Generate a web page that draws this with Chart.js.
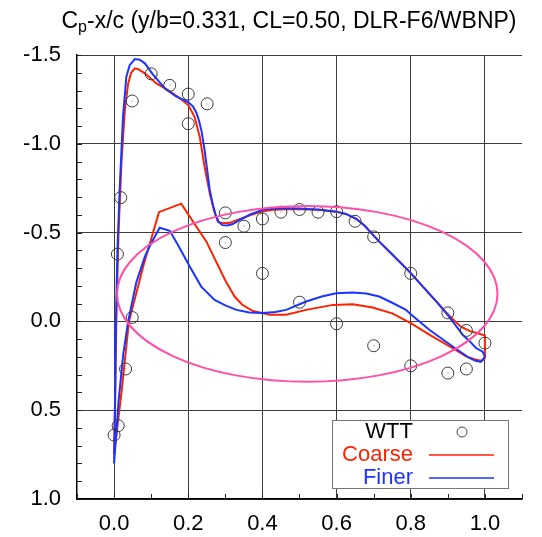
<!DOCTYPE html>
<html lang="en">
<head>
  <meta charset="UTF-8">
  <title>Cp distribution</title>
  <script src="https://cdn.jsdelivr.net/npm/chart.js"></script>
  <style>
    body {
      margin: 0;
      background-color: #ffffff;
    }
    canvas {
      display: block;
    }
  </style>
</head>
<body>
  <canvas id="cpChart" width="542" height="537"></canvas>

  <script>
    // axis ticks
    const xTicks = [0.0, 0.2, 0.4, 0.6, 0.8, 1.0];
    const yTicks = [-1.5, -1.0, -0.5, 0.0, 0.5, 1.0];

    // wind tunnel test points
    const wttX = [0.0, 0.011, 0.031, 0.049, 0.009, 0.018, 0.049, 0.1, 0.15, 0.2, 0.2, 0.251,
      0.3, 0.3, 0.35, 0.4, 0.45, 0.5, 0.55, 0.6, 0.65, 0.7, 0.8, 0.4, 0.5, 0.6, 0.7, 0.8,
      0.9, 0.95, 1.0, 0.9, 0.95];
    const wttY = [0.64, 0.587, 0.268, -0.022, -0.379, -0.697, -1.241, -1.394, -1.329, -1.28, -1.113, -1.225,
      -0.611, -0.444, -0.536, -0.577, -0.615, -0.63, -0.615, -0.618, -0.564, -0.476, -0.27, -0.27, -0.108, 0.013, 0.137, 0.25,
      -0.048, 0.051, 0.122, 0.291, 0.268];

    // coarse grid, upper surface from trailing edge to nose, then lower surface back
    const coarseX = [1.0, 1.0, 0.985, 0.96, 0.935, 0.915, 0.9, 0.87, 0.835, 0.8, 0.751, 0.715, 0.697, 0.675,
      0.653, 0.625, 0.599, 0.554, 0.5, 0.464, 0.43, 0.401, 0.37, 0.338, 0.312, 0.295, 0.28, 0.27, 0.258,
      0.244, 0.231, 0.217, 0.2, 0.172, 0.145, 0.114, 0.083, 0.065, 0.056, 0.046, 0.038, 0.029, 0.02, 0.012,
      0.006, 0.003, 0.0,
      0.02, 0.04, 0.08, 0.121, 0.181, 0.249, 0.3, 0.325, 0.345, 0.374, 0.42, 0.464, 0.518, 0.59, 0.644,
      0.697, 0.75, 0.8, 0.85, 0.913, 0.949, 0.976, 0.99, 1.0];
    const coarseY = [0.21, 0.08, 0.07, 0.055, 0.03, -0.01, -0.04, -0.11, -0.19, -0.272, -0.375, -0.449, -0.49, -0.54,
      -0.578, -0.605, -0.618, -0.628, -0.632, -0.632, -0.628, -0.62, -0.6, -0.575, -0.555, -0.553, -0.56, -0.62, -0.722,
      -0.871, -1.04, -1.152, -1.218, -1.265, -1.303, -1.34, -1.397, -1.42, -1.425, -1.4, -1.34, -1.19, -0.9, -0.5,
      0.0, 0.4, 0.75,
      0.4, 0.0, -0.32, -0.615, -0.663, -0.449, -0.23, -0.14, -0.095, -0.058, -0.037, -0.037, -0.065, -0.093, -0.097,
      -0.078, -0.045, 0.01, 0.075, 0.15, 0.197, 0.216, 0.222, 0.21];

    // finer grid, same ordering
    const finerX = [1.0, 0.994, 0.976, 0.958, 0.94, 0.92, 0.9, 0.87, 0.835, 0.8, 0.751, 0.715, 0.697, 0.675,
      0.653, 0.625, 0.599, 0.554, 0.5, 0.464, 0.43, 0.401, 0.37, 0.345, 0.32, 0.305, 0.292, 0.282, 0.274,
      0.266, 0.258, 0.244, 0.236, 0.229, 0.222, 0.213, 0.2, 0.185, 0.168, 0.137, 0.105, 0.083, 0.069, 0.056,
      0.042, 0.033, 0.024, 0.015, 0.009, 0.005, 0.003, 0.0,
      0.012, 0.025, 0.038, 0.06, 0.083, 0.1, 0.123, 0.15, 0.172, 0.204, 0.235, 0.271, 0.3, 0.33, 0.365,
      0.401, 0.435, 0.464, 0.518, 0.56, 0.599, 0.644, 0.68, 0.715, 0.75, 0.787, 0.8, 0.85, 0.913, 0.958,
      0.975, 0.989, 1.0];
    const finerY = [0.2, 0.17, 0.15, 0.11, 0.075, 0.02, -0.035, -0.11, -0.19, -0.272, -0.375, -0.449, -0.49, -0.54,
      -0.578, -0.605, -0.618, -0.628, -0.635, -0.637, -0.635, -0.628, -0.605, -0.578, -0.548, -0.54, -0.542, -0.56, -0.6,
      -0.66, -0.74, -0.965, -1.07, -1.13, -1.175, -1.21, -1.235, -1.25, -1.265, -1.312, -1.39, -1.453, -1.473, -1.477,
      -1.443, -1.377, -1.152, -0.74, -0.4, 0.0, 0.4, 0.8,
      0.45, 0.18, 0.0, -0.22, -0.365, -0.44, -0.527, -0.51, -0.431, -0.309, -0.196, -0.121, -0.09, -0.065, -0.05,
      -0.047, -0.053, -0.065, -0.112, -0.14, -0.159, -0.163, -0.157, -0.14, -0.105, -0.065, -0.04, 0.047, 0.141, 0.206,
      0.222, 0.228, 0.2];

    // highlighted region, in data units
    const ringCenter = [0.521, -0.155];
    const ringRadius = [0.513, 0.495];

    const FONT = "'Liberation Sans', Arial, sans-serif";
    const toPoints = (xs, ys) => xs.map((x, i) => ({ x: x, y: ys[i] }));

    // short inner ticks every 0.1 on both axes
    const minorTicks = {
      id: 'minorTicks',
      beforeDatasetsDraw(chart) {
        const { ctx, chartArea, scales } = chart;
        ctx.save();
        ctx.strokeStyle = '#222';
        ctx.lineWidth = 1;
        ctx.beginPath();
        for (let k = -15; k <= 10; k++) {
          const y = Math.round(scales.y.getPixelForValue(k / 10)) + 0.5;
          ctx.moveTo(chartArea.left, y);
          ctx.lineTo(chartArea.left + 5, y);
        }
        for (let k = -1; k <= 11; k++) {
          const x = Math.round(scales.x.getPixelForValue(k / 10)) + 0.5;
          ctx.moveTo(x, chartArea.bottom);
          ctx.lineTo(x, chartArea.bottom - 5);
        }
        ctx.stroke();
        ctx.restore();
      }
    };

    // pink ellipse and the dots inside the test markers
    const overlay = {
      id: 'overlay',
      afterDatasetsDraw(chart) {
        const { ctx, scales } = chart;
        const cx = scales.x.getPixelForValue(ringCenter[0]);
        const cy = scales.y.getPixelForValue(ringCenter[1]);
        const rx = Math.abs(scales.x.getPixelForValue(ringCenter[0] + ringRadius[0]) - cx);
        const ry = Math.abs(scales.y.getPixelForValue(ringCenter[1] + ringRadius[1]) - cy);
        ctx.save();
        ctx.strokeStyle = '#ff4fa7';
        ctx.lineWidth = 2;
        ctx.beginPath();
        ctx.ellipse(cx, cy, rx, ry, 0, 0, Math.PI * 2);
        ctx.stroke();

        ctx.fillStyle = '#777';
        chart.getDatasetMeta(0).data.forEach(p => {
          ctx.fillRect(Math.round(p.x) - 0.5, Math.round(p.y) - 0.5, 1, 1);
        });
        ctx.restore();
      }
    };

    // title with subscript, and the boxed legend
    const labels = {
      id: 'labels',
      afterDraw(chart) {
        const ctx = chart.ctx;
        ctx.save();
        ctx.fillStyle = '#000';
        ctx.textBaseline = 'alphabetic';
        const big = '23px ' + FONT, small = '16px ' + FONT;
        const rest = '-x/c (y/b=0.331, CL=0.50, DLR-F6/WBNP)';
        ctx.font = big;
        const wC = ctx.measureText('C').width;
        const wRest = ctx.measureText(rest).width;
        ctx.font = small;
        const wP = ctx.measureText('p').width;
        let x = 289 - (wC + wP + wRest) / 2;
        const base = 28;
        ctx.font = big;
        ctx.fillText('C', x, base);
        x += wC;
        ctx.font = small;
        ctx.fillText('p', x, base + 4);
        x += wP;
        ctx.font = big;
        ctx.fillText(rest, x, base);

        // legend box
        ctx.fillStyle = '#fff';
        ctx.fillRect(332, 420, 177, 69);
        ctx.strokeStyle = '#777';
        ctx.lineWidth = 1;
        ctx.strokeRect(332.5, 420.5, 176, 68);

        ctx.font = '22px ' + FONT;
        ctx.textAlign = 'right';
        ctx.textBaseline = 'middle';
        const rows = [
          { text: 'WTT', color: '#000', y: 432 },
          { text: 'Coarse', color: '#ff2200', y: 455 },
          { text: 'Finer', color: '#1a35ff', y: 478 }
        ];
        rows.forEach(r => {
          ctx.fillStyle = r.color;
          ctx.fillText(r.text, 413, r.y);
        });

        ctx.strokeStyle = '#444';
        ctx.beginPath();
        ctx.arc(462, 432, 5, 0, Math.PI * 2);
        ctx.stroke();
        ctx.fillStyle = '#777';
        ctx.fillRect(461.5, 431.5, 1, 1);

        ctx.lineWidth = 1.5;
        ctx.strokeStyle = '#ff2200';
        ctx.beginPath();
        ctx.moveTo(429, 455);
        ctx.lineTo(494, 455);
        ctx.stroke();
        ctx.strokeStyle = '#1a35ff';
        ctx.beginPath();
        ctx.moveTo(429, 478);
        ctx.lineTo(494, 478);
        ctx.stroke();
        ctx.restore();
      }
    };

    new Chart(document.getElementById('cpChart'), {
      type: 'scatter',
      data: {
        datasets: [
          {
            label: 'WTT',
            data: toPoints(wttX, wttY),
            showLine: false,
            pointStyle: 'circle',
            pointRadius: 6,
            pointBorderWidth: 1,
            pointBorderColor: '#3a3a3a',
            pointBackgroundColor: 'rgba(0,0,0,0)',
            order: 0
          },
          {
            label: 'Finer',
            data: toPoints(finerX, finerY),
            showLine: true,
            borderColor: '#1a35ff',
            borderWidth: 2,
            pointRadius: 0,
            tension: 0,
            order: 1
          },
          {
            label: 'Coarse',
            data: toPoints(coarseX, coarseY),
            showLine: true,
            borderColor: '#ff2200',
            borderWidth: 2,
            pointRadius: 0,
            tension: 0,
            order: 2
          }
        ]
      },
      options: {
        responsive: false,
        animation: false,
        layout: { padding: { top: 55, right: 20, left: 0, bottom: 0 } },
        plugins: {
          legend: { display: false },
          tooltip: { enabled: false }
        },
        scales: {
          x: {
            type: 'linear',
            min: -0.1,
            max: 1.1,
            afterBuildTicks: scale => { scale.ticks = xTicks.map(v => ({ value: v })); },
            afterFit: scale => { scale.height = 38; },
            ticks: {
              color: '#000',
              padding: 12,
              font: { family: FONT, size: 22 },
              callback: v => v.toFixed(1)
            },
            grid: { color: '#3c3c3c', lineWidth: 1, drawTicks: false },
            border: { display: true, color: '#000', width: 1.5 }
          },
          y: {
            type: 'linear',
            reverse: true,
            min: -1.5,
            max: 1.0,
            afterBuildTicks: scale => { scale.ticks = yTicks.map(v => ({ value: v })); },
            afterFit: scale => { scale.width = 77; },
            ticks: {
              color: '#000',
              padding: 16,
              font: { family: FONT, size: 22 },
              callback: v => v.toFixed(1)
            },
            grid: { color: '#3c3c3c', lineWidth: 1, drawTicks: false },
            border: { display: true, color: '#000', width: 1.5 }
          }
        }
      },
      plugins: [minorTicks, overlay, labels]
    });
  </script>
</body>
</html>
